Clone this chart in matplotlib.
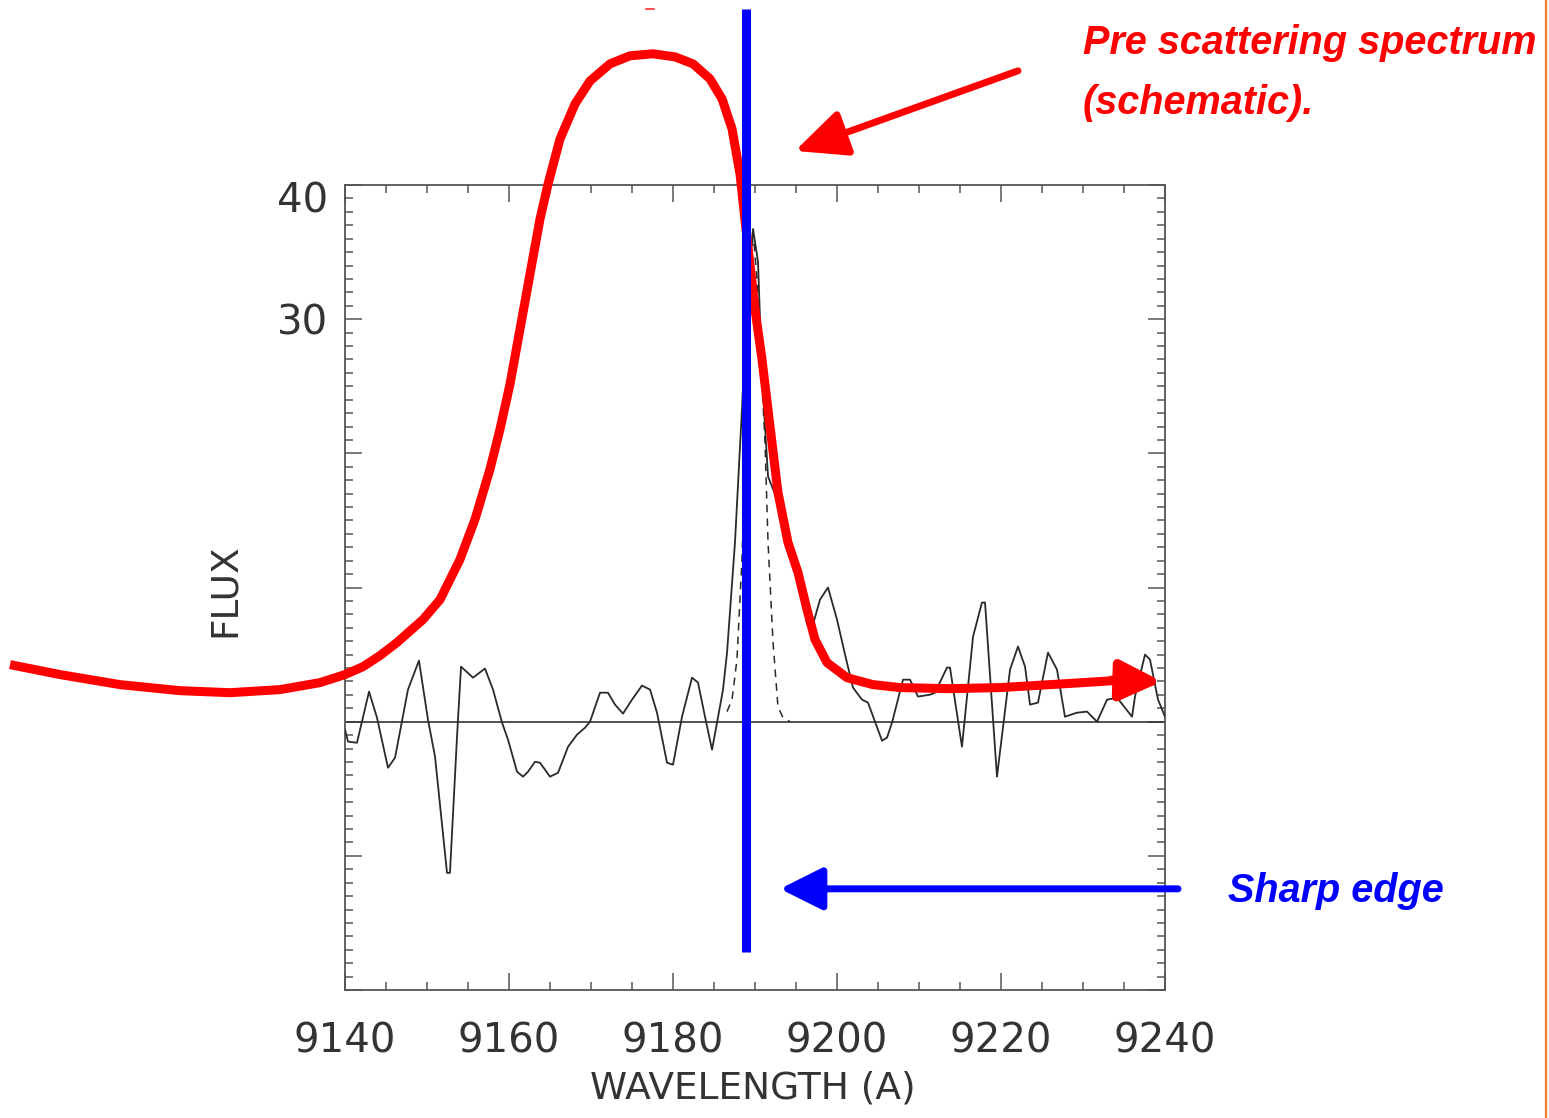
import matplotlib
matplotlib.use("Agg")
import matplotlib.pyplot as plt
import matplotlib.transforms as mtransforms
from matplotlib.lines import Line2D

# ---- observed spectrum (solid) ----
spec_wl = [9140.0, 9140.37, 9141.46, 9142.93, 9143.90, 9145.24, 9146.10, 9147.68, 9149.02, 9150.12,
           9150.98, 9152.44, 9152.80, 9153.66, 9154.15, 9155.61, 9157.07, 9158.05, 9159.15, 9159.88,
           9160.98, 9161.71, 9162.32, 9163.17, 9163.78, 9165.00, 9165.98, 9167.20, 9168.29, 9169.27,
           9169.88, 9171.10, 9172.07, 9172.93, 9173.90, 9175.00, 9176.22, 9177.20, 9178.05, 9179.27,
           9180.00, 9181.10, 9182.32, 9183.05, 9183.90, 9184.76, 9185.37, 9186.10, 9186.59, 9187.56,
           9188.41, 9189.15, 9189.76, 9190.37, 9190.85, 9191.59, 9193.66, 9195.49, 9196.34, 9197.07,
           9197.93, 9198.90, 9200.00, 9200.98, 9201.95, 9203.05, 9203.78, 9205.49, 9206.10, 9206.71,
           9208.05, 9208.90, 9209.88, 9211.34, 9211.95, 9213.41, 9213.78, 9215.24, 9216.59, 9217.68,
           9218.05, 9219.51, 9221.10, 9222.07, 9222.93, 9223.54, 9224.51, 9225.73, 9226.83, 9227.80,
           9229.27, 9230.49, 9231.71, 9232.93, 9234.15, 9235.98, 9236.34, 9237.56, 9238.17, 9239.15,
           9240.0]
spec_flux = [-0.60, -1.49, -1.57, 2.24, 0.30, -3.43, -2.69, 2.39, 4.55, 0.15,
             -2.61, -11.27, -11.27, -1.12, 4.10, 3.28, 3.96, 2.39, -0.07, -1.34,
             -3.73, -4.10, -3.73, -2.99, -3.06, -4.10, -3.81, -1.87, -0.97, -0.45,
             0.00, 2.16, 2.16, 1.27, 0.60, 1.64, 2.69, 2.39, 0.67, -3.06,
             -3.21, 0.37, 3.28, 2.91, 0.37, -2.09, -0.07, 2.39, 5.15, 13.36,
             23.28, 32.99, 36.72, 34.25, 25.75, 18.28, 15.07, 10.82, 7.24, 7.24,
             9.10, 10.00, 7.61, 5.00, 2.54, 1.64, 1.42, -1.42, -1.19, -0.07,
             3.13, 3.13, 1.87, 2.01, 2.16, 4.03, 4.03, -1.87, 6.34, 8.88,
             8.88, -4.10, 3.88, 5.60, 4.10, 1.27, 1.42, 5.15, 3.88, 0.37,
             0.67, 0.75, 0.00, 1.64, 1.79, 0.37, 1.87, 5.00, 4.63, 1.64,
             0.37]

# ---- model line (dashed) ----
model_wl = [9186.59, 9187.20, 9187.80, 9188.41, 9188.90, 9189.39, 9189.76, 9190.24, 9190.85,
            9191.22, 9191.59, 9192.20, 9192.80, 9193.41, 9194.27]
model_flux = [0.75, 1.64, 4.63, 12.09, 21.04, 31.49, 36.57, 32.99, 25.30,
              20.82, 13.36, 5.90, 1.12, 0.30, 0.0]

# ---- schematic pre-scattering spectrum (red) ----
pre_wl = [9099.15, 9105.24, 9112.56, 9119.88, 9125.98, 9132.07, 9136.95, 9140.00, 9142.20, 9144.27,
          9146.34, 9149.51, 9151.59, 9154.02, 9155.85, 9157.68, 9158.90, 9160.12, 9161.34, 9162.56,
          9163.78, 9164.76, 9166.22, 9168.05, 9169.88, 9172.32, 9174.76, 9177.56, 9180.24, 9182.44,
          9184.51, 9185.98, 9187.20, 9188.17, 9188.90, 9190.00, 9190.85, 9191.83, 9192.80, 9194.02,
          9195.24, 9196.34, 9197.32, 9198.78, 9201.22, 9204.39, 9207.68, 9213.78, 9219.88, 9225.98,
          9232.07, 9235.37]
pre_flux = [4.25, 3.51, 2.76, 2.31, 2.16, 2.39, 2.91, 3.51, 4.10, 4.93,
            5.90, 7.61, 9.10, 12.09, 15.07, 18.81, 21.79, 25.15, 29.25, 33.36,
            37.46, 40.07, 43.43, 46.04, 47.76, 49.03, 49.63, 49.78, 49.55, 49.03,
            47.91, 46.42, 44.18, 40.82, 36.72, 30.75, 27.01, 22.01, 17.09, 13.36,
            11.12, 8.36, 6.12, 4.40, 3.28, 2.76, 2.54, 2.46, 2.54, 2.76,
            2.99, 3.13]
pre_arrow_tail = (9233.5, 3.10)
pre_arrow_tip = (9239.63, 2.99)

# ---- annotations ----
edge_wl = 9188.9
edge_span = (-17.16, 53.13)
edge_arrow_tail = (9241.59, -12.46)
edge_arrow_tip = (9193.05, -12.46)
pre_label_arrow_tail = (9222.07, 48.51)
pre_label_arrow_tip = (9194.88, 42.54)

x_major = [9140, 9160, 9180, 9200, 9220, 9240]
y_major = [-20, -10, 0, 10, 20, 30, 40]
y_labels = ['', '', '', '', '', '30', '40']

fig = plt.figure(figsize=(15.49, 11.18), dpi=100)
ax = fig.add_axes([345/1549, 128/1118, 820/1549, 805/1118])
ax.set_xlim(9140, 9240)
ax.set_ylim(-20, 40)

axis_col = '#555555'
for s in ax.spines.values():
    s.set_color(axis_col)
    s.set_linewidth(1.3)

ax.set_xticks(x_major)
ax.set_xticks([v for v in range(9140, 9241, 5)], minor=True)
ax.set_yticks(y_major)
ax.set_yticklabels(y_labels)
ax.set_yticks(list(range(-20, 41)), minor=True)
ax.tick_params(which='both', direction='in', top=True, right=True, color=axis_col, width=1.1)
ax.tick_params(which='major', length=12)
ax.tick_params(which='minor', length=5.5)
ax.tick_params(axis='x', which='major', labelsize=29, pad=23, labelcolor='#333333')
ax.tick_params(axis='y', which='major', labelsize=29, pad=12, labelcolor='#333333')

# the top label sits a little below its tick in the reference
shift = mtransforms.ScaledTranslation(0, -12/100, fig.dpi_scale_trans)
for lab in ax.get_yticklabels():
    if lab.get_text() == '40':
        lab.set_transform(lab.get_transform() + shift)

ax.set_xlabel('WAVELENGTH (A)', fontsize=27, color='#333333')
ax.xaxis.set_label_coords(0.4976, -0.100)
ax.set_ylabel('FLUX', fontsize=27, color='#333333')
ax.yaxis.set_label_coords(-0.1244, 0.497)

ax.axhline(0, color='#333333', lw=1.2, zorder=2)
ax.plot(spec_wl, spec_flux, color='#2a2a2a', lw=1.3, zorder=3)
ax.plot(model_wl, model_flux, color='#2a2a2a', lw=1.1, ls=(0, (5, 4)), zorder=3)

# red schematic spectrum
ax.plot(pre_wl, pre_flux, color='#ff0000', lw=6.5, clip_on=False, zorder=5,
        solid_capstyle='butt', solid_joinstyle='round')
ax.annotate('', xy=pre_arrow_tip, xytext=pre_arrow_tail, annotation_clip=False,
            arrowprops=dict(arrowstyle='-|>,head_length=1.0,head_width=0.48', color='#ff0000',
                            lw=6.5, mutation_scale=25, shrinkA=0, shrinkB=0), zorder=5)

# blue sharp edge line
ax.plot([edge_wl, edge_wl], list(edge_span), color='#0000ff', lw=6.5, clip_on=False, zorder=6,
        solid_capstyle='butt')
ax.annotate('', xy=edge_arrow_tip, xytext=edge_arrow_tail, annotation_clip=False,
            arrowprops=dict(arrowstyle='-|>,head_length=1.0,head_width=0.5', color='#0000ff',
                            lw=5, mutation_scale=26, shrinkA=0, shrinkB=0), zorder=6)
ax.annotate('', xy=pre_label_arrow_tip, xytext=pre_label_arrow_tail, annotation_clip=False,
            arrowprops=dict(arrowstyle='-|>,head_length=1.2,head_width=0.55', color='#ff0000',
                            lw=5, mutation_scale=26, shrinkA=0, shrinkB=0), zorder=6)

fam = ['Liberation Sans', 'DejaVu Sans']
fig.text(1083/1549, 1 - 24/1118, 'Pre scattering spectrum\n(schematic).', color='#ff0000',
         fontsize=28.5, fontweight='bold', fontstyle='italic', family=fam,
         ha='left', va='top', linespacing=1.72)
fig.text(1228/1549, 1 - 872/1118, 'Sharp edge', color='#0000ff',
         fontsize=28.5, fontweight='bold', fontstyle='italic', family=fam,
         ha='left', va='top')

# orange frame edge on the right and small red mark at top
fig.add_artist(Line2D([1546/1549, 1546/1549], [0, 1], color='#ee7f2d', lw=1.6))
fig.add_artist(Line2D([646/1549, 654/1549], [1 - 9/1118, 1 - 9/1118], color='#ff3030', lw=1.2))

fig.savefig('out.png', dpi=100, facecolor='white')
